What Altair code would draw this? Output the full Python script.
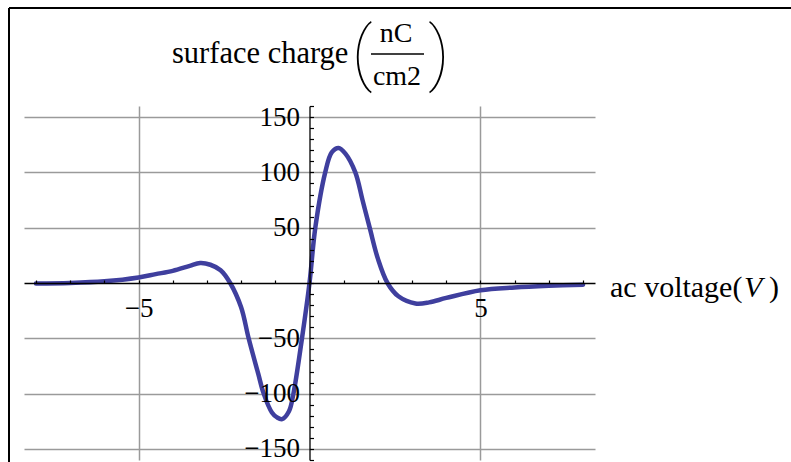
import altair as alt
import pandas as pd

# ---- data ----
voltage = [-8, -7, -6, -5, -4.5, -4, -3.5, -3.2, -2.9, -2.6,
           -2.32, -2, -1.78, -1.5, -1.34, -1.1, -0.95, -0.8, -0.6, -0.47, -0.22,
           0, 0.17, 0.46, 0.65, 0.85, 1.05, 1.34, 1.55, 1.76, 2.0,
           2.28, 2.6, 3.1, 3.5, 4, 5, 6, 7, 8]
charge = [-0.5, 0, 1.5, 5, 8, 11, 15.5, 18, 16.5, 11.5,
          0, -22, -50, -82, -100, -117, -121.5, -123, -116, -100, -50,
          0, 50, 100, 118, 122, 117, 100, 75, 50, 22,
          0, -12, -18.5, -17.5, -13.5, -6.5, -4, -2.5, -1.5]

x_ticks = list(range(-8, 9))
y_ticks = list(range(-160, 161, 10))
x_labels = [-5, 5]
y_labels = [-150, -100, -50, 50, 100, 150]

x_domain = [-8.35, 8.35]
y_domain = [-160, 160]

W, H = 571, 354
SERIF = "Liberation Serif"
CURVE = "#3f3f9e"

df = pd.DataFrame({"v": voltage, "q": charge})
one = pd.DataFrame({"k": [0]})

xs = alt.Scale(domain=x_domain, nice=False, zero=False)
ys = alt.Scale(domain=y_domain, nice=False, zero=False)

# grid layer + curve
curve = alt.Chart(df).mark_line(
    color=CURVE, strokeWidth=4.5, interpolate="catmull-rom", strokeCap="round"
).encode(
    x=alt.X("v:Q", scale=xs, axis=alt.Axis(
        orient="bottom", values=x_labels, grid=True, gridColor="#9a9a9a",
        gridWidth=1.5, labels=False, ticks=False, domain=False, title=None)),
    y=alt.Y("q:Q", scale=ys, axis=alt.Axis(
        orient="left", values=y_labels, grid=True, gridColor="#9a9a9a",
        gridWidth=1.5, labels=False, ticks=False, domain=False, title=None)),
)

# tick / axis-line layer (axes crossing at origin)
ticks = alt.Chart(df).mark_line(opacity=0).encode(
    x=alt.X("v:Q", scale=xs, axis=alt.Axis(
        orient="top", offset=-H / 2, values=x_ticks, grid=False, labels=False,
        ticks=True, tickSize=3, tickColor="black", tickWidth=1.2,
        domain=True, domainColor="black", domainWidth=1.3, title=None, zindex=1)),
    y=alt.Y("q:Q", scale=ys, axis=alt.Axis(
        orient="right", offset=-W / 2, values=y_ticks, grid=False, labels=False,
        ticks=True, tickSize=4, tickColor="black", tickWidth=1.2,
        domain=True, domainColor="black", domainWidth=1.3, title=None, zindex=1)),
)

# tick label layer
labels = alt.Chart(df).mark_line(opacity=0).encode(
    x=alt.X("v:Q", scale=xs, axis=alt.Axis(
        orient="bottom", offset=-H / 2, values=x_labels, grid=False,
        labels=True, ticks=False, tickSize=0, domain=False, title=None,
        labelFont=SERIF, labelFontSize=27, labelColor="black",
        labelPadding=12, labelFlush=False, labelOverlap=False, zindex=1)),
    y=alt.Y("q:Q", scale=ys, axis=alt.Axis(
        orient="left", offset=-W / 2, values=y_labels, grid=False,
        labels=True, ticks=False, tickSize=0, domain=False, title=None,
        labelFont=SERIF, labelFontSize=27, labelColor="black",
        labelPadding=10, labelFlush=False, labelOverlap=False, zindex=1)),
)


def txt(s, x, y, size, align="left", baseline="alphabetic", font=SERIF,
        style="normal", weight="normal"):
    return alt.Chart(one).mark_text(
        text=s, font=font, fontSize=size, align=align, baseline=baseline,
        fontStyle=style, fontWeight=weight, color="black"
    ).encode(x=alt.value(x), y=alt.value(y))


title_parts = [
    txt("surface charge", 148, -43, 30.5),
    txt("(", 338, -50, 70, align="center", baseline="middle", font="Roboto", weight=100),
    txt("nC", 372, -64, 28, align="center"),
    txt("cm2", 373, -21, 28, align="center"),
    txt(")", 415, -50, 70, align="center", baseline="middle", font="Roboto", weight=100),
    txt("ac voltage(", 586, 191, 30),
    txt("V", 720, 191, 30, style="italic"),
    txt(")", 745, 191, 30),
]

frac_line = alt.Chart(one).mark_rule(color="black", strokeWidth=1.5).encode(
    x=alt.value(347), x2=alt.value(400), y=alt.value(-52))

border_top = alt.Chart(one).mark_rule(color="black", strokeWidth=2).encode(
    x=alt.value(-15), x2=alt.value(767), y=alt.value(-98))
border_left = alt.Chart(one).mark_rule(color="black", strokeWidth=2).encode(
    x=alt.value(-15), y=alt.value(-98), y2=alt.value(358))

chart = alt.layer(
    curve, ticks, labels, frac_line, border_top, border_left, *title_parts
).resolve_axis(
    x="independent", y="independent"
).properties(
    width=W, height=H,
    padding={"left": 24, "top": 106, "right": 196, "bottom": 2},
    autosize=alt.AutoSizeParams(type="none"),
    background="white",
).configure_view(stroke=None)

chart.save("out.html", embed_options={"renderer": "svg", "actions": False})
